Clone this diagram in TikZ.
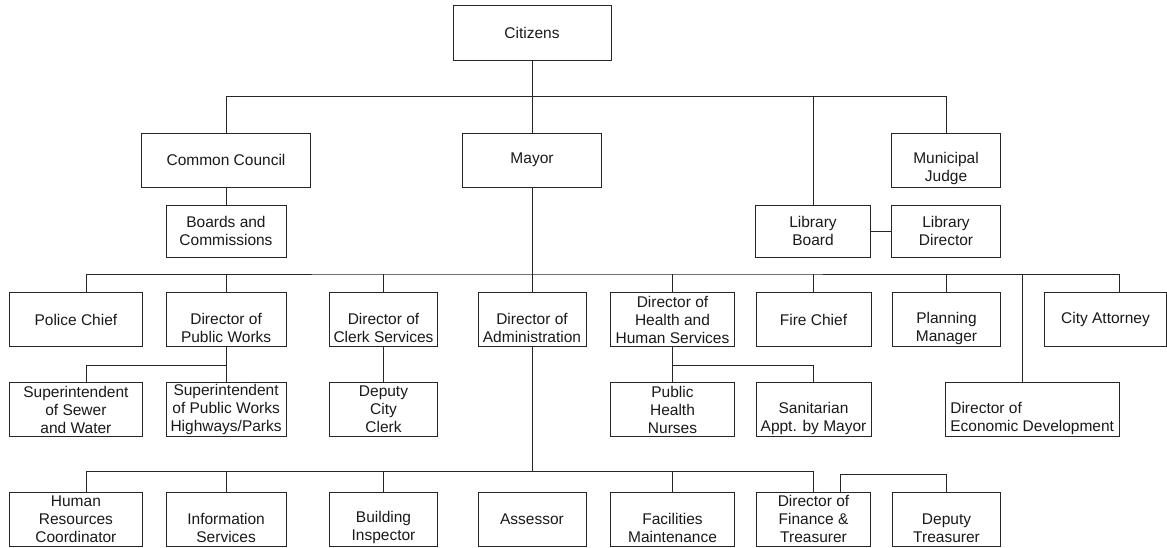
\documentclass[tikz,border=0pt]{standalone}
\usepackage{fontspec}
\setmainfont{Liberation Sans}
\usetikzlibrary{positioning}
\newcommand\skipline{\rule{0pt}{11pt}}

\begin{document}
\begin{tikzpicture}[x=1pt,y=-1pt,on grid,line width=0.9pt,draw=black!85,
    box/.style={draw,align=center,minimum width=#1,minimum height=54pt,inner sep=1pt,
      text=black!90,font=\fontsize{15.5pt}{18pt}\selectfont}]
   \useasboundingbox (0,0) rectangle (1167,548);
   % top rows
   \node[box=158pt,minimum height=55pt] (cit) at (532,32.5) {Citizens};
   \node[box=139pt] (may) [below=127.5pt of cit] {Mayor};
   \node[box=169pt] (cc) [left=306pt of may] {Common Council};
   \node[box=108.6pt] (judge) [right=414pt of may] {\skipline\\Municipal\\Judge};
   \node[box=120pt,minimum height=52pt] (bc) [below=71pt of cc] {Boards and\\Commissions};
   \node[box=108.6pt,minimum height=52pt] (ld) [below=71pt of judge] {Library\\Director};
   \node[box=115pt,minimum height=52pt] (lb) [left=133pt of ld] {Library\\Board};
   % department heads
   \node[box=108pt] (adm) [below=159.5pt of may] {\skipline\\Director of\\Administration};
   \node[box=108pt] (clk) [left=148.5pt of adm] {\skipline\\Director of\\Clerk Services};
   \node[box=120pt] (pw) [left=157.4pt of clk] {\skipline\\Director of\\Public Works};
   \node[box=132.4pt] (pol) [left=150.2pt of pw] {Police Chief};
   \node[box=124pt] (hhs) [right=140.5pt of adm] {Director of\\Health and\\Human Services};
   \node[box=115pt] (fire) [right=141pt of hhs] {Fire Chief};
   \node[box=108.6pt] (plan) [right=133pt of fire] {\skipline\\Planning\\Manager};
   \node[box=122pt] (att) [right=159pt of plan] {City Attorney};
   % second row
   \node[box=132.4pt] (sew) [below=90.2pt of pol] {Superintendent\\of Sewer\\and Water};
   \node[box=120pt] (spw) [below=90.2pt of pw] {Superintendent\\of Public Works\\Highways/Parks};
   \node[box=108pt] (dcc) [below=90.2pt of clk] {Deputy\\City\\Clerk};
   \node[box=124pt] (phn) [below=90.2pt of hhs] {Public\\Health\\Nurses};
   \node[box=115pt] (san) [below=90.2pt of fire] {\skipline\\Sanitarian\\Appt. by Mayor};
   \node[box=173.5pt,align=left] (ecd) [below right=90.2pt and 85.7pt of plan] {\skipline\\Director of\\Economic Development};
   % bottom row
   \node[box=132.4pt] (hr) [below=199.5pt of pol] {Human\\Resources\\Coordinator};
   \node[box=120pt] (info) [below=199.5pt of pw] {\skipline\\Information\\Services};
   \node[box=108pt] (bld) [below=199.5pt of clk] {\skipline\\Building\\Inspector};
   \node[box=108pt] (ass) [below=199.5pt of adm] {Assessor};
   \node[box=124pt] (fac) [below=199.5pt of hhs] {\skipline\\Facilities\\Maintenance};
   \node[box=114pt] (fin) [below=199.5pt of fire] {Director of\\Finance \&\\Treasurer};
   \node[box=108pt] (dtr) [below=199.5pt of plan] {\skipline\\Deputy\\Treasurer};
   % bus lines
   \coordinate[below=64pt of cit] (top);
   \coordinate[above=45.5pt of adm] (mid);
   \coordinate[below=45.5pt of pw] (pwb);
   \coordinate[below=45.5pt of hhs] (hhb);
   \coordinate[below=152pt of adm] (low);
   \coordinate[above=45pt of dtr] (trb);
    \path[draw]
    (cit) edge (may)
    (cc) edge (bc)
    (lb) edge (ld)
    (may) edge (adm)
    (pw) edge (spw)
    (clk) edge (dcc)
    (hhs) edge (phn)
    (adm) edge (low);
   \draw (cc.north) |- (top) -| (judge.north);
   \draw (lb.north |- top) -- (lb);
   \draw ([xshift=10.6pt]pol.north) |- (mid) -| ([xshift=14pt]att.north);
   \foreach \n in {pw,clk,hhs,fire,plan}
     \draw (\n) -- (\n |- mid);
   \draw ([xshift=-9.7pt]ecd.north) -- ([xshift=-9.7pt]ecd.north |- mid);
   \draw ([xshift=10.6pt]sew.north) |- (pwb);
   \draw (hhb) -| (san.north);
   \draw ([xshift=10.6pt]hr.north) |- (low) -| (fin.north);
   \foreach \n in {info,bld,fac}
     \draw (\n) -- (\n |- low);
   \draw ([xshift=27pt]fin.north) |- (trb) -- (dtr);
\end{tikzpicture}
\end{document}
